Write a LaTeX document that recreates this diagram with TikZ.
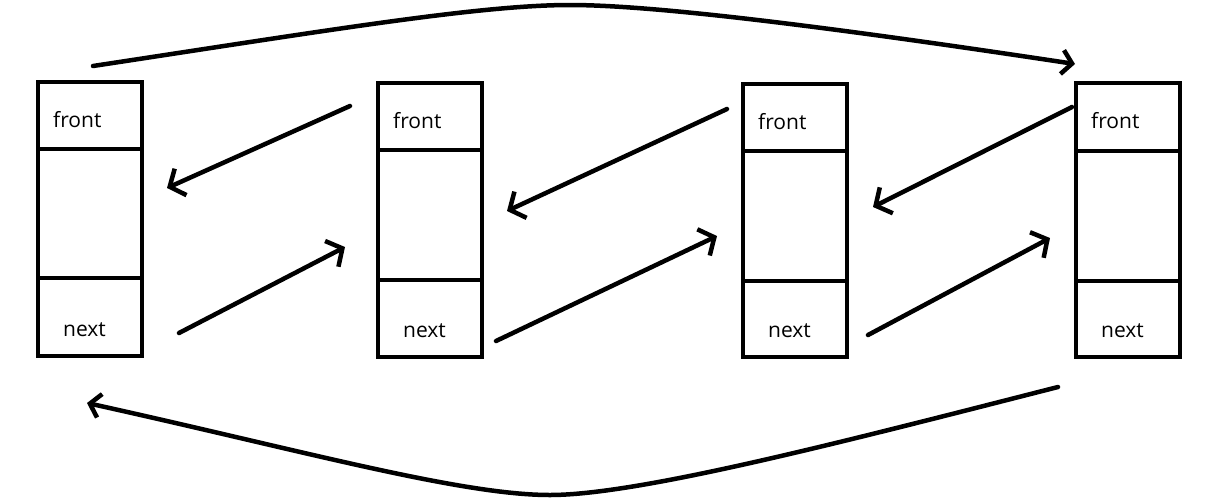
\documentclass[tikz,border=0pt]{standalone}
\usepackage{fontspec}
\setmainfont{Open Sans}
\usepackage{tikz}
\usetikzlibrary{positioning, shapes, arrows.meta}

\tikzset{
  cell/.style={draw, rectangle, line width=4.5pt, minimum width=104pt, inner sep=0pt, outer sep=0pt},
  lbl/.style={inner sep=0pt, font=\fontsize{21}{21}\selectfont},
  link/.style={line width=4.5pt, line cap=round, line join=round},
  small/.style={-{Straight Barb[length=10pt,width=24pt]}}
}

\begin{document}
\begin{tikzpicture}[x=1pt, y=-1pt, >={Straight Barb[length=12pt,width=29pt]}]
  \useasboundingbox (0,0) rectangle (1212,499);

  % four queue cells
  \node (top1) [cell, minimum height=67pt] at (90,115.5) {};
  \node (mid1) [cell, minimum height=129pt, below=0pt of top1] {};
  \node (bot1) [cell, minimum height=78pt, below=0pt of mid1] {};

  \node (top2) [cell, minimum height=67pt] at (430,116.5) {};
  \node (mid2) [cell, minimum height=130pt, below=0pt of top2] {};
  \node (bot2) [cell, minimum height=77pt, below=0pt of mid2] {};

  \node (top3) [cell, minimum height=67pt] at (795,117.5) {};
  \node (mid3) [cell, minimum height=130pt, below=0pt of top3] {};
  \node (bot3) [cell, minimum height=76pt, below=0pt of mid3] {};

  \node (top4) [cell, minimum height=68pt] at (1128,117) {};
  \node (mid4) [cell, minimum height=130pt, below=0pt of top4] {};
  \node (bot4) [cell, minimum height=76pt, below=0pt of mid4] {};

  \node (front1) [lbl, anchor=base west] at ([shift={(15,45)}]top1.north west) {front};
  \node (front2) [lbl, anchor=base west] at ([shift={(15,45)}]top2.north west) {front};
  \node (front3) [lbl, anchor=base west] at ([shift={(15,45)}]top3.north west) {front};
  \node (front4) [lbl, anchor=base west] at ([shift={(15,45)}]top4.north west) {front};

  \node (next1) [lbl, anchor=base west] at ([shift={(25,-20)}]bot1.south west) {next};
  \node (next2) [lbl, anchor=base west] at ([shift={(25,-20)}]bot2.south west) {next};
  \node (next3) [lbl, anchor=base west] at ([shift={(25,-20)}]bot3.south west) {next};
  \node (next4) [lbl, anchor=base west] at ([shift={(25,-20)}]bot4.south west) {next};

  % loose arrow ends
  \coordinate (back1a) at (350,106);  \coordinate (back1b) at (167,188);
  \coordinate (back2a) at (727,109);  \coordinate (back2b) at (507,211);
  \coordinate (back3a) at (1072,107); \coordinate (back3b) at (873,207);
  \coordinate (fwd1a) at (179,333);   \coordinate (fwd1b) at (345,247);
  \coordinate (fwd2a) at (496,341);   \coordinate (fwd2b) at (717,236);
  \coordinate (fwd3a) at (868,335);   \coordinate (fwd3b) at (1050,238);
  \coordinate (wrapa) at (93,66);     \coordinate (wrapb) at (1075,64);
  \coordinate (loopa) at (1058,387);  \coordinate (loopb) at (87,403);

  \draw [link, ->] (back1a) -- (back1b);
  \draw [link, ->] (back2a) -- (back2b);
  \draw [link, ->] (back3a) -- (back3b);
  \draw [link, ->] (fwd1a) -- (fwd1b);
  \draw [link, ->] (fwd2a) -- (fwd2b);
  \draw [link, ->] (fwd3a) -- (fwd3b);

  \draw [link, small] (wrapa) .. controls (330,30) and (480,5) .. (570,5)
    .. controls (660,5) and (850,30) .. (wrapb);
  \draw [link, small] (loopa) .. controls (850,440) and (640,495) .. (550,495)
    .. controls (460,495) and (300,450) .. (loopb);
\end{tikzpicture}
\end{document}
